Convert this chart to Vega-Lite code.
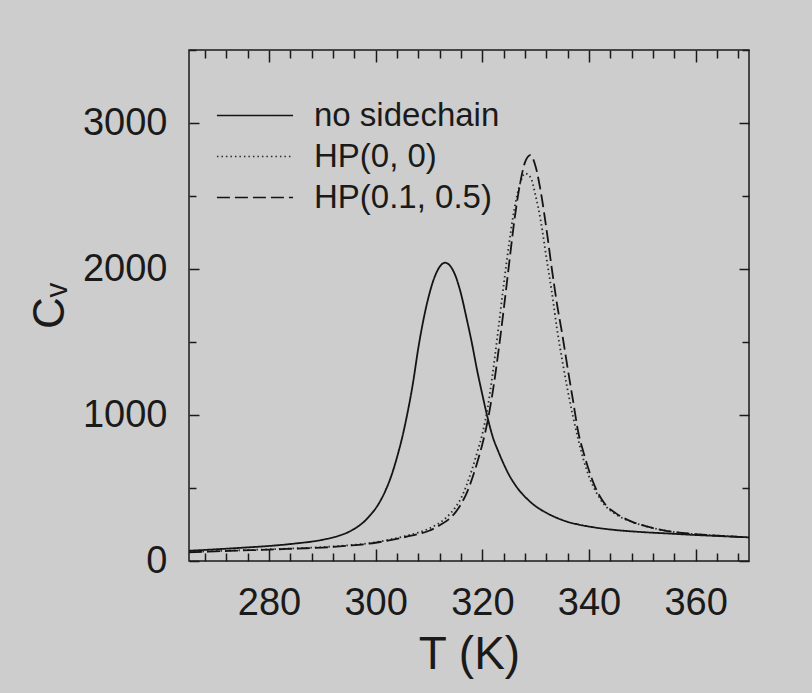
{
  "$schema": "https://vega.github.io/schema/vega-lite/v6.json",
  "autosize": "none",
  "width": 560,
  "height": 511,
  "padding": {"left": 189, "top": 50, "right": 63, "bottom": 132},
  "background": "#cdcdcd",
  "config": {
    "view": {"stroke": "#1a1a1a", "strokeWidth": 1.5, "fill": "#cdcdcd"},
    "font": "Liberation Sans"
  },
  "data": {
    "values": [
      {"s": "no sidechain", "T": 265, "c": 70}, {"s": "no sidechain", "T": 270, "c": 80}, {"s": "no sidechain", "T": 275, "c": 91},
      {"s": "no sidechain", "T": 280, "c": 103}, {"s": "no sidechain", "T": 285, "c": 120}, {"s": "no sidechain", "T": 290, "c": 145},
      {"s": "no sidechain", "T": 293, "c": 172}, {"s": "no sidechain", "T": 295, "c": 200}, {"s": "no sidechain", "T": 296, "c": 220},
      {"s": "no sidechain", "T": 297, "c": 245}, {"s": "no sidechain", "T": 298, "c": 275}, {"s": "no sidechain", "T": 299, "c": 315},
      {"s": "no sidechain", "T": 300, "c": 360}, {"s": "no sidechain", "T": 301, "c": 420}, {"s": "no sidechain", "T": 302, "c": 495},
      {"s": "no sidechain", "T": 303, "c": 590}, {"s": "no sidechain", "T": 304, "c": 710}, {"s": "no sidechain", "T": 305, "c": 850},
      {"s": "no sidechain", "T": 306, "c": 1020}, {"s": "no sidechain", "T": 307, "c": 1220}, {"s": "no sidechain", "T": 308, "c": 1460},
      {"s": "no sidechain", "T": 309, "c": 1660}, {"s": "no sidechain", "T": 310, "c": 1820}, {"s": "no sidechain", "T": 311, "c": 1940},
      {"s": "no sidechain", "T": 312, "c": 2015}, {"s": "no sidechain", "T": 313, "c": 2043}, {"s": "no sidechain", "T": 314, "c": 2020},
      {"s": "no sidechain", "T": 315, "c": 1950}, {"s": "no sidechain", "T": 316, "c": 1830}, {"s": "no sidechain", "T": 317, "c": 1670},
      {"s": "no sidechain", "T": 318, "c": 1500}, {"s": "no sidechain", "T": 319, "c": 1310}, {"s": "no sidechain", "T": 320, "c": 1140},
      {"s": "no sidechain", "T": 321, "c": 980}, {"s": "no sidechain", "T": 322, "c": 845}, {"s": "no sidechain", "T": 323, "c": 750},
      {"s": "no sidechain", "T": 324, "c": 665}, {"s": "no sidechain", "T": 325, "c": 590}, {"s": "no sidechain", "T": 326, "c": 530},
      {"s": "no sidechain", "T": 327, "c": 480}, {"s": "no sidechain", "T": 328, "c": 440}, {"s": "no sidechain", "T": 330, "c": 375},
      {"s": "no sidechain", "T": 332, "c": 330}, {"s": "no sidechain", "T": 334, "c": 295}, {"s": "no sidechain", "T": 336, "c": 268},
      {"s": "no sidechain", "T": 338, "c": 250}, {"s": "no sidechain", "T": 341, "c": 230}, {"s": "no sidechain", "T": 345, "c": 212},
      {"s": "no sidechain", "T": 350, "c": 198}, {"s": "no sidechain", "T": 355, "c": 188}, {"s": "no sidechain", "T": 360, "c": 178},
      {"s": "no sidechain", "T": 365, "c": 170}, {"s": "no sidechain", "T": 370, "c": 162},

      {"s": "HP(0, 0)", "T": 265, "c": 62}, {"s": "HP(0, 0)", "T": 270, "c": 68}, {"s": "HP(0, 0)", "T": 275, "c": 74},
      {"s": "HP(0, 0)", "T": 280, "c": 80}, {"s": "HP(0, 0)", "T": 285, "c": 87}, {"s": "HP(0, 0)", "T": 290, "c": 95},
      {"s": "HP(0, 0)", "T": 295, "c": 108}, {"s": "HP(0, 0)", "T": 300, "c": 128}, {"s": "HP(0, 0)", "T": 303, "c": 150},
      {"s": "HP(0, 0)", "T": 306, "c": 175}, {"s": "HP(0, 0)", "T": 308, "c": 195}, {"s": "HP(0, 0)", "T": 310, "c": 222},
      {"s": "HP(0, 0)", "T": 312, "c": 262}, {"s": "HP(0, 0)", "T": 314, "c": 325}, {"s": "HP(0, 0)", "T": 315, "c": 370},
      {"s": "HP(0, 0)", "T": 316, "c": 430}, {"s": "HP(0, 0)", "T": 317, "c": 515}, {"s": "HP(0, 0)", "T": 318, "c": 620},
      {"s": "HP(0, 0)", "T": 319, "c": 740}, {"s": "HP(0, 0)", "T": 320, "c": 870}, {"s": "HP(0, 0)", "T": 321, "c": 1050},
      {"s": "HP(0, 0)", "T": 322, "c": 1300}, {"s": "HP(0, 0)", "T": 323, "c": 1590}, {"s": "HP(0, 0)", "T": 324, "c": 1890},
      {"s": "HP(0, 0)", "T": 325, "c": 2170}, {"s": "HP(0, 0)", "T": 326, "c": 2410}, {"s": "HP(0, 0)", "T": 327, "c": 2575},
      {"s": "HP(0, 0)", "T": 328, "c": 2655}, {"s": "HP(0, 0)", "T": 329, "c": 2630}, {"s": "HP(0, 0)", "T": 330, "c": 2500},
      {"s": "HP(0, 0)", "T": 331, "c": 2320}, {"s": "HP(0, 0)", "T": 332, "c": 2080}, {"s": "HP(0, 0)", "T": 333, "c": 1850},
      {"s": "HP(0, 0)", "T": 334, "c": 1590}, {"s": "HP(0, 0)", "T": 335, "c": 1370}, {"s": "HP(0, 0)", "T": 336, "c": 1170},
      {"s": "HP(0, 0)", "T": 337, "c": 990}, {"s": "HP(0, 0)", "T": 338, "c": 830}, {"s": "HP(0, 0)", "T": 339, "c": 690},
      {"s": "HP(0, 0)", "T": 340, "c": 580}, {"s": "HP(0, 0)", "T": 341, "c": 495}, {"s": "HP(0, 0)", "T": 342, "c": 430},
      {"s": "HP(0, 0)", "T": 343, "c": 380}, {"s": "HP(0, 0)", "T": 345, "c": 320}, {"s": "HP(0, 0)", "T": 348, "c": 268},
      {"s": "HP(0, 0)", "T": 351, "c": 235}, {"s": "HP(0, 0)", "T": 354, "c": 210}, {"s": "HP(0, 0)", "T": 358, "c": 190},
      {"s": "HP(0, 0)", "T": 362, "c": 178}, {"s": "HP(0, 0)", "T": 366, "c": 170}, {"s": "HP(0, 0)", "T": 370, "c": 162},

      {"s": "HP(0.1, 0.5)", "T": 265, "c": 60}, {"s": "HP(0.1, 0.5)", "T": 270, "c": 66}, {"s": "HP(0.1, 0.5)", "T": 275, "c": 72},
      {"s": "HP(0.1, 0.5)", "T": 280, "c": 78}, {"s": "HP(0.1, 0.5)", "T": 285, "c": 85}, {"s": "HP(0.1, 0.5)", "T": 290, "c": 92},
      {"s": "HP(0.1, 0.5)", "T": 295, "c": 105}, {"s": "HP(0.1, 0.5)", "T": 300, "c": 125}, {"s": "HP(0.1, 0.5)", "T": 303, "c": 145},
      {"s": "HP(0.1, 0.5)", "T": 306, "c": 168}, {"s": "HP(0.1, 0.5)", "T": 308, "c": 185}, {"s": "HP(0.1, 0.5)", "T": 310, "c": 207},
      {"s": "HP(0.1, 0.5)", "T": 312, "c": 245}, {"s": "HP(0.1, 0.5)", "T": 314, "c": 295}, {"s": "HP(0.1, 0.5)", "T": 315, "c": 335},
      {"s": "HP(0.1, 0.5)", "T": 316, "c": 390}, {"s": "HP(0.1, 0.5)", "T": 317, "c": 460}, {"s": "HP(0.1, 0.5)", "T": 318, "c": 555},
      {"s": "HP(0.1, 0.5)", "T": 319, "c": 670}, {"s": "HP(0.1, 0.5)", "T": 320, "c": 800}, {"s": "HP(0.1, 0.5)", "T": 321, "c": 960},
      {"s": "HP(0.1, 0.5)", "T": 322, "c": 1170}, {"s": "HP(0.1, 0.5)", "T": 323, "c": 1430}, {"s": "HP(0.1, 0.5)", "T": 324, "c": 1720},
      {"s": "HP(0.1, 0.5)", "T": 325, "c": 2030}, {"s": "HP(0.1, 0.5)", "T": 326, "c": 2330}, {"s": "HP(0.1, 0.5)", "T": 327, "c": 2570},
      {"s": "HP(0.1, 0.5)", "T": 328, "c": 2730}, {"s": "HP(0.1, 0.5)", "T": 329, "c": 2780}, {"s": "HP(0.1, 0.5)", "T": 330, "c": 2700},
      {"s": "HP(0.1, 0.5)", "T": 331, "c": 2520}, {"s": "HP(0.1, 0.5)", "T": 332, "c": 2280}, {"s": "HP(0.1, 0.5)", "T": 333, "c": 2010},
      {"s": "HP(0.1, 0.5)", "T": 334, "c": 1760}, {"s": "HP(0.1, 0.5)", "T": 335, "c": 1550}, {"s": "HP(0.1, 0.5)", "T": 336, "c": 1320},
      {"s": "HP(0.1, 0.5)", "T": 337, "c": 1100}, {"s": "HP(0.1, 0.5)", "T": 338, "c": 880}, {"s": "HP(0.1, 0.5)", "T": 339, "c": 740},
      {"s": "HP(0.1, 0.5)", "T": 340, "c": 620}, {"s": "HP(0.1, 0.5)", "T": 341, "c": 520}, {"s": "HP(0.1, 0.5)", "T": 342, "c": 445},
      {"s": "HP(0.1, 0.5)", "T": 343, "c": 390}, {"s": "HP(0.1, 0.5)", "T": 345, "c": 328}, {"s": "HP(0.1, 0.5)", "T": 348, "c": 270},
      {"s": "HP(0.1, 0.5)", "T": 351, "c": 235}, {"s": "HP(0.1, 0.5)", "T": 354, "c": 210}, {"s": "HP(0.1, 0.5)", "T": 358, "c": 190},
      {"s": "HP(0.1, 0.5)", "T": 362, "c": 178}, {"s": "HP(0.1, 0.5)", "T": 366, "c": 170}, {"s": "HP(0.1, 0.5)", "T": 370, "c": 162}
    ]
  },
  "layer": [
    {
      "mark": {"type": "line", "strokeWidth": 1.8, "interpolate": "monotone"},
      "encoding": {
        "x": {
          "field": "T", "type": "quantitative",
          "scale": {"domain": [265, 370], "nice": false, "zero": false},
          "axis": {
            "orient": "bottom", "title": "T (K)",
            "values": [268, 272, 276, 280, 284, 288, 292, 296, 300, 304, 308, 312, 316, 320, 324, 328, 332, 336, 340, 344, 348, 352, 356, 360, 364, 368],
            "labelExpr": "datum.value % 20 === 0 ? datum.label : ''",
            "tickSize": {"condition": {"test": "datum.value % 20 === 0", "value": -12}, "value": -8},
            "tickColor": "#1a1a1a", "tickWidth": 1.5, "domain": false, "grid": false,
            "labelFontSize": 38, "labelColor": "#1a1a1a", "labelPadding": 35, "labelFont": "Liberation Sans",
            "titleFontSize": 46, "titleFontWeight": "normal", "titleColor": "#1a1a1a", "titlePadding": 10, "titleFont": "Liberation Sans"
          }
        },
        "y": {
          "field": "c", "type": "quantitative",
          "scale": {"domain": [0, 3500], "nice": false},
          "axis": {
            "orient": "left", "title": "Cᵥ",
            "values": [0, 500, 1000, 1500, 2000, 2500, 3000, 3500],
            "format": "d",
            "labelExpr": "datum.value % 1000 === 0 && datum.value < 3500 ? datum.label : ''",
            "tickSize": {"condition": {"test": "datum.value % 1000 === 0", "value": -10}, "value": -7},
            "tickColor": "#1a1a1a", "tickWidth": 1.5, "domain": false, "grid": false,
            "labelFontSize": 38, "labelColor": "#1a1a1a", "labelPadding": 32, "labelFont": "Liberation Sans",
            "titleFontSize": 44, "titleFontWeight": "normal", "titleColor": "#1a1a1a", "titlePadding": 10, "titleFont": "Liberation Sans"
          }
        },
        "color": {
          "field": "s", "type": "nominal",
          "scale": {"domain": ["no sidechain", "HP(0, 0)", "HP(0.1, 0.5)"], "range": ["#141414", "#2a2a2a", "#141414"]},
          "legend": {
            "orient": "none", "legendX": 27, "legendY": 45, "title": null, "padding": 0,
            "symbolType": "stroke", "symbolSize": 5800, "symbolStrokeWidth": 1.6,
            "labelFontSize": 33, "labelOffset": 20, "labelColor": "#1a1a1a", "labelFont": "Liberation Sans", "labelLimit": 500,
            "clipHeight": 41, "rowPadding": 0
          }
        },
        "strokeDash": {
          "field": "s", "type": "nominal",
          "scale": {"domain": ["no sidechain", "HP(0, 0)", "HP(0.1, 0.5)"], "range": [[1, 0], [1.5, 3], [13, 5]]},
          "legend": {
            "orient": "none", "legendX": 27, "legendY": 45, "title": null, "padding": 0,
            "symbolType": "stroke", "symbolSize": 5800, "symbolStrokeWidth": 1.6,
            "labelFontSize": 33, "labelOffset": 20, "labelColor": "#1a1a1a", "labelFont": "Liberation Sans", "labelLimit": 500,
            "clipHeight": 41, "rowPadding": 0
          }
        }
      }
    },
    {
      "mark": {"type": "line", "opacity": 0},
      "encoding": {
        "detail": {"field": "s", "type": "nominal"},
        "x": {
          "field": "T", "type": "quantitative",
          "scale": {"domain": [265, 370], "nice": false, "zero": false},
          "axis": {
            "orient": "top", "title": null, "labels": false,
            "values": [268, 272, 276, 280, 284, 288, 292, 296, 300, 304, 308, 312, 316, 320, 324, 328, 332, 336, 340, 344, 348, 352, 356, 360, 364, 368],
            "tickSize": {"condition": {"test": "datum.value % 20 === 0", "value": -12}, "value": -8},
            "tickColor": "#1a1a1a", "tickWidth": 1.5, "domain": false, "grid": false
          }
        },
        "y": {
          "field": "c", "type": "quantitative",
          "scale": {"domain": [0, 3500], "nice": false},
          "axis": {
            "orient": "right", "title": null, "labels": false,
            "values": [0, 500, 1000, 1500, 2000, 2500, 3000, 3500],
            "tickSize": {"condition": {"test": "datum.value % 1000 === 0", "value": -10}, "value": -7},
            "tickColor": "#1a1a1a", "tickWidth": 1.5, "domain": false, "grid": false
          }
        }
      }
    }
  ],
  "resolve": {"axis": {"x": "independent", "y": "independent"}}
}
